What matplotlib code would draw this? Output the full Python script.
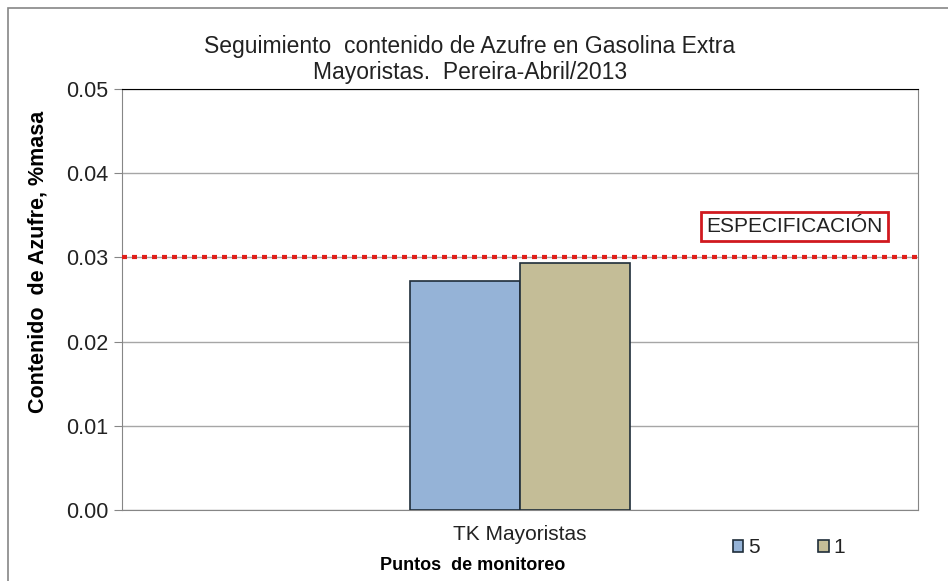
import matplotlib
matplotlib.use("Agg")
import matplotlib.pyplot as plt
from matplotlib.patches import Rectangle

# datos
categorias = ["TK Mayoristas"]
series = ["5", "1"]
valores = [[0.0272], [0.0293]]
colores = ["#95b3d7", "#c4bd97"]
especificacion = 0.03

plt.rcParams['font.family'] = ['Liberation Sans', 'DejaVu Sans']

fig = plt.figure(figsize=(9.48, 5.81), dpi=100)
ax = fig.add_axes([122/948, 1 - 510/581, 796/948, 421/581])

# marco exterior
fig.patches.append(Rectangle((8/948, -0.1), 1.2, 1 - 8/581 + 0.1, transform=fig.transFigure,
                             fill=False, edgecolor="#868686", linewidth=1.2))

ancho = 0.138
for i, (s, v, c) in enumerate(zip(series, valores, colores)):
    x = [k + (i - 0.5) * ancho for k in range(len(categorias))]
    ax.bar(x, v, width=ancho, color=c, edgecolor="#1f2d3a", linewidth=1.2, label=s, zorder=3)

ax.axhline(especificacion, color="#e0201b", linestyle=(0, (1.2, 1.2)), linewidth=3, zorder=4)
ax.text(0.345, 0.0337, "ESPECIFICACIÓN", fontsize=15, color="#222222", ha="center", va="center",
        bbox=dict(boxstyle="square,pad=0.25", facecolor="white", edgecolor="#d0191f", linewidth=2))

ax.set_xlim(-0.5, 0.5)
ax.set_ylim(0, 0.05)
ax.set_yticks([0, 0.01, 0.02, 0.03, 0.04, 0.05])
ax.set_yticklabels(["0.00", "0.01", "0.02", "0.03", "0.04", "0.05"], fontsize=15.5, color="#222222")
ax.set_xticks(range(len(categorias)))
ax.set_xticklabels(categorias, fontsize=15, color="#222222")
ax.tick_params(axis="x", length=0, pad=11)
ax.tick_params(axis="y", length=6, direction="out", color="#868686", pad=4)
ax.grid(axis="y", color="#a6a6a6", linewidth=1, zorder=0)
for lado in ["left", "bottom", "right"]:
    ax.spines[lado].set_color("#868686")
ax.spines["top"].set_color("black")

ax.set_title("Seguimiento  contenido de Azufre en Gasolina Extra\nMayoristas.  Pereira-Abril/2013",
             fontsize=16.5, color="#222222", pad=7, x=0.437)
ax.set_ylabel("Contenido  de Azufre, %masa", fontsize=15.5, fontweight="bold", va="center")
ax.yaxis.set_label_coords(-0.105, 0.59)
ax.set_xlabel("Puntos  de monitoreo", fontsize=13, fontweight="bold", va="center")
ax.xaxis.set_label_coords(0.441, -0.131)

ax.legend(loc="center", bbox_to_anchor=(0.838, -0.09), ncol=2, frameon=False, fontsize=15,
          handlelength=0.5, handleheight=0.5, columnspacing=2.8, handletextpad=0.25,
          labelcolor="#222222")

fig.savefig("out.png", dpi=100)
